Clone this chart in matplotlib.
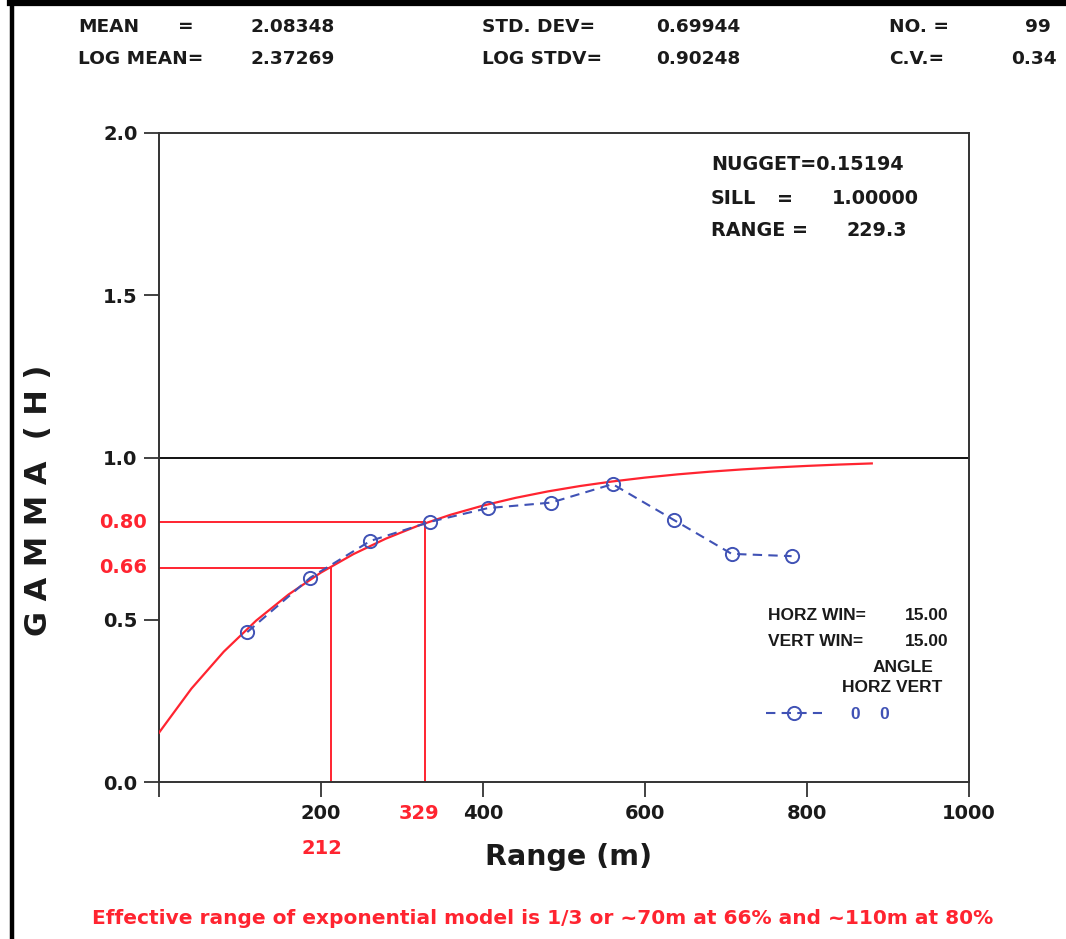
import numpy as np
import matplotlib
matplotlib.use("Agg")
import matplotlib.pyplot as plt
from matplotlib.lines import Line2D
from matplotlib.transforms import blended_transform_factory

# Experimental variogram: lag distance (m) and semivariance
lag_m = [109, 187, 261, 335, 406, 484, 560, 636, 707, 781]
gamma_exp = [0.462, 0.630, 0.743, 0.802, 0.844, 0.861, 0.918, 0.807, 0.703, 0.696]

# Fitted exponential model
nugget = 0.15194
sill = 1.00000
model_range = 229.3
model_h_max = 880
model_steps = 23

# Effective-range reference levels and distances
eff_gamma = [0.66, 0.80]
eff_h = [212, 329]

# Axis ticks
x_ticks = [0, 200, 400, 600, 800, 1000]
x_tick_labels = ["", "200", "400", "600", "800", "1000"]
y_ticks = [0.0, 0.5, 1.0, 1.5, 2.0]
y_tick_labels = ["0.0", "0.5", "1.0", "1.5", "2.0"]

# Summary statistics
stat_names_1 = ["MEAN", "STD. DEV=", "NO. ="]
stat_values_1 = ["2.08348", "0.69944", "99"]
stat_names_2 = ["LOG MEAN=", "LOG STDV=", "C.V.="]
stat_values_2 = ["2.37269", "0.90248", "0.34"]

RED = "#ff2430"
BLUE = "#4052b5"
INK = "#1a1a1a"

W, H = 1066, 939
fig = plt.figure(figsize=(W / 100, H / 100), dpi=100)
fig.patch.set_facecolor("white")


def fx(x):
    return x / W


def fy(y):
    return 1 - y / H


ax = fig.add_axes([fx(159), fy(782), (969 - 159) / W, (782 - 133) / H])
ax.set_xlim(0, 1000)
ax.set_ylim(0, 2)

for sp in ax.spines.values():
    sp.set_linewidth(1.4)
    sp.set_color("#333333")

ax.set_xticks(x_ticks)
ax.set_xticklabels(x_tick_labels)
ax.set_yticks(y_ticks)
ax.set_yticklabels(y_tick_labels)
ax.tick_params(direction="out", length=10.5, width=1.3, color="#333333",
               labelsize=14, pad=5)
for lbl in ax.get_xticklabels() + ax.get_yticklabels():
    lbl.set_fontweight("bold")
    lbl.set_color(INK)

# Sill reference line
ax.axhline(1.0, color="#111111", lw=1.4, zorder=2)

# Exponential model curve
h = np.linspace(0, model_h_max, model_steps)
g = nugget + (sill - nugget) * (1 - np.exp(-h / model_range))
ax.plot(h, g, color=RED, lw=1.6, zorder=3)

# Effective-range guides
ylab_tr = blended_transform_factory(ax.transAxes, ax.transData)
xlab_tr = blended_transform_factory(ax.transData, ax.transAxes)
for gv, hv in zip(eff_gamma, eff_h):
    ax.plot([0, hv], [gv, gv], color=RED, lw=1.4, zorder=2)
    ax.plot([hv, hv], [0, gv], color=RED, lw=1.4, zorder=2)
    ax.text(-0.015, gv, f"{gv:.2f}", transform=ylab_tr, ha="right", va="center",
            color=RED, fontsize=14, fontweight="bold")
ax.annotate(str(eff_h[1]), xy=(eff_h[1], -0.048), xycoords=xlab_tr,
            xytext=(-5, 0), textcoords="offset points", ha="center", va="center",
            color=RED, fontsize=14, fontweight="bold")
ax.annotate(str(eff_h[0]), xy=(eff_h[0], -0.102), xycoords=xlab_tr,
            xytext=(-6, 0), textcoords="offset points", ha="center", va="center",
            color=RED, fontsize=14, fontweight="bold")

# Experimental points
exp_line, = ax.plot(lag_m, gamma_exp, color=BLUE, lw=1.5, ls=(0, (4.5, 3)),
                    marker="o", ms=9.5, mfc="none", mec=BLUE, mew=1.4, zorder=4)

# Axis titles
fig.text(fx(569), fy(857), "Range (m)", ha="center", va="center",
         fontsize=20.5, fontweight="bold", color=INK)
fig.text(fx(39), fy(500), "G A M M A  ( H )", ha="center", va="center",
         rotation=90, fontsize=22, fontweight="bold", color=INK)

# Summary statistics header
hdr = dict(fontsize=13.3, fontweight="bold", color=INK, va="center")
row_y = [27, 59]
name_x = [78, 482, 889]
val_x = [251, 656]
for i, (nm, vl) in enumerate(zip(stat_names_1, stat_values_1)):
    fig.text(fx(name_x[i]), fy(row_y[0]), nm, **hdr)
    if i < 2:
        fig.text(fx(val_x[i]), fy(row_y[0]), vl, **hdr)
    else:
        fig.text(fx(1051), fy(row_y[0]), vl, ha="right", **hdr)
fig.text(fx(178), fy(row_y[0]), "=", **hdr)
for i, (nm, vl) in enumerate(zip(stat_names_2, stat_values_2)):
    fig.text(fx(name_x[i]), fy(row_y[1]), nm, **hdr)
    if i < 2:
        fig.text(fx(val_x[i]), fy(row_y[1]), vl, **hdr)
    else:
        fig.text(fx(1057), fy(row_y[1]), vl, ha="right", **hdr)

# Model parameters box
mp = dict(fontsize=13.8, fontweight="bold", color=INK, va="center")
fig.text(fx(711), fy(165), f"NUGGET={nugget:.5f}", **mp)
fig.text(fx(711), fy(199), "SILL", **mp)
fig.text(fx(777), fy(199), "=", **mp)
fig.text(fx(919), fy(199), f"{sill:.5f}", ha="right", **mp)
fig.text(fx(711), fy(230), "RANGE =", **mp)
fig.text(fx(907), fy(230), f"{model_range:.1f}", ha="right", **mp)

# Search window / direction legend
lg = dict(fontsize=12.5, fontweight="bold", color=INK, va="center",
          family=["Liberation Sans", "DejaVu Sans"])
fig.text(fx(768), fy(616), "HORZ WIN=", **lg)
fig.text(fx(948), fy(616), "15.00", ha="right", **lg)
fig.text(fx(768), fy(641), "VERT WIN=", **lg)
fig.text(fx(948), fy(641), "15.00", ha="right", **lg)
fig.text(fx(903), fy(667), "ANGLE", ha="center", **lg)
fig.text(fx(892), fy(687), "HORZ VERT", ha="center", **lg)
leg = fig.legend([exp_line], ["0    0"], loc="center left",
                 bbox_to_anchor=(fx(766), fy(714)), bbox_transform=fig.transFigure,
                 frameon=False, numpoints=1, handlelength=3.2, handletextpad=1.7,
                 borderpad=0, borderaxespad=0,
                 prop=dict(family=["Liberation Sans", "DejaVu Sans"],
                           weight="bold", size=12.5))
for t in leg.get_texts():
    t.set_color(BLUE)

# Footnote
fig.text(fx(543), fy(918),
         "Effective range of exponential model is 1/3 or ~70m at 66% and ~110m at 80%",
         ha="center", va="center", fontsize=14.5, fontweight="bold", color=RED)

# Page frame
fig.add_artist(Line2D([fx(10), fx(1066)], [fy(3), fy(3)], color="black", lw=4.5,
                      transform=fig.transFigure))
fig.add_artist(Line2D([fx(12), fx(12)], [fy(0), fy(939)], color="black", lw=3.2,
                      transform=fig.transFigure))

fig.savefig("out.png", dpi=100, facecolor="white")
